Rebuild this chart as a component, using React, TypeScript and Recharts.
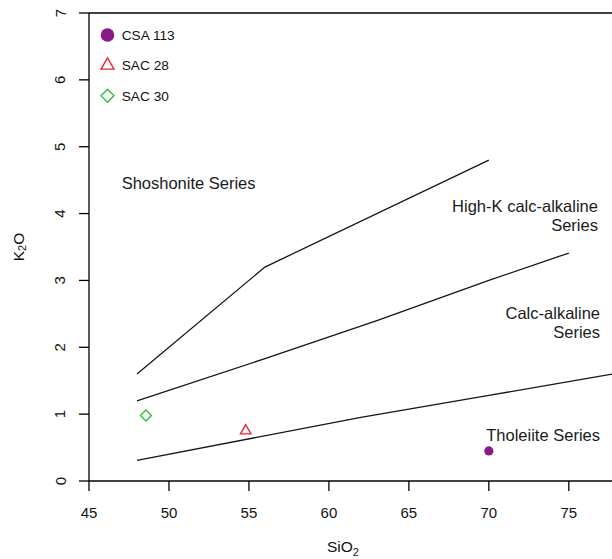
import React from 'react';
import {
  ComposedChart,
  Line,
  Scatter,
  XAxis,
  YAxis,
  ReferenceLine,
  ReferenceDot,
  Legend,
} from 'recharts';

const FONT = '"Liberation Sans", Arial, Helvetica, sans-serif';

// Series boundaries in the SiO2 – K2O plane (wt%)
const tholeiiteBoundary = [
  { sio2: 48, k2o: 0.31 },
  { sio2: 62, k2o: 0.95 },
  { sio2: 70, k2o: 1.28 },
  { sio2: 77.7, k2o: 1.6 },
];
const calcAlkalineBoundary = [
  { sio2: 48, k2o: 1.2 },
  { sio2: 56, k2o: 1.83 },
  { sio2: 63, k2o: 2.4 },
  { sio2: 70, k2o: 3.0 },
  { sio2: 75, k2o: 3.41 },
];
const highKBoundary = [
  { sio2: 48, k2o: 1.6 },
  { sio2: 56, k2o: 3.2 },
  { sio2: 70, k2o: 4.8 },
];

// Samples
const sampleNames = ['CSA 113', 'SAC 28', 'SAC 30'];
const csa113 = [{ sio2: 70.0, k2o: 0.45 }];
const sac28 = [{ sio2: 54.8, k2o: 0.75 }];
const sac30 = [{ sio2: 48.56, k2o: 0.98 }];

// Axis ticks
const xTicks = [45, 50, 55, 60, 65, 70, 75];
const yTicks = [0, 1, 2, 3, 4, 5, 6, 7];

const sampleStyle: Record<string, { kind: string; color: string }> = {
  'CSA 113': { kind: 'circle', color: '#8B1A89' },
  'SAC 28': { kind: 'triangle', color: '#E8262A' },
  'SAC 30': { kind: 'diamond', color: '#2EC22E' },
};

// Field names written inside the diagram (anchored in data units)
const fieldLabels = [
  { lines: ['Shoshonite Series'], sio2: 47.04, k2o: 4.45, anchor: 'start' },
  { lines: ['High-K calc-alkaline', 'Series'], sio2: 76.82, k2o: 4.11, anchor: 'end' },
  { lines: ['Calc-alkaline', 'Series'], sio2: 76.95, k2o: 2.51, anchor: 'end' },
  { lines: ['Tholeiite Series'], sio2: 76.95, k2o: 0.68, anchor: 'end' },
];

type MarkerProps = { kind: string; cx: number; cy: number; color: string; size: number };

function Marker({ kind, cx, cy, color, size }: MarkerProps) {
  if (kind === 'circle') {
    return <circle cx={cx} cy={cy} r={size / 2} fill={color} stroke="none" />;
  }
  if (kind === 'triangle') {
    const w = size;
    const h = size * 0.87;
    const pts = `${cx},${cy - (2 * h) / 3} ${cx + w / 2},${cy + h / 3} ${cx - w / 2},${cy + h / 3}`;
    return <polygon points={pts} fill="none" stroke={color} strokeWidth={1.4} />;
  }
  const r = size / 2;
  const pts = `${cx},${cy - r} ${cx + r},${cy} ${cx},${cy + r} ${cx - r},${cy}`;
  return <polygon points={pts} fill="none" stroke={color} strokeWidth={1.4} />;
}

function YTick(props: any) {
  const { x, y, payload } = props;
  return (
    <text
      x={x}
      y={y}
      transform={`rotate(-90 ${x} ${y})`}
      textAnchor="middle"
      dominantBaseline="central"
      fontSize={15}
      fill="#111"
      fontFamily={FONT}
    >
      {payload.value}
    </text>
  );
}

function SampleLegend(props: any) {
  const entries = (props.payload || []).filter((e: any) => sampleNames.includes(e.value));
  return (
    <svg width={110} height={95} style={{ display: 'block' }}>
      {entries.map((e: any, i: number) => {
        const st = sampleStyle[e.value];
        const cy = 13 + i * 30.4;
        return (
          <g key={e.value}>
            <Marker kind={st.kind} cx={11.5} cy={cy} color={st.color} size={st.kind === 'circle' ? 13.6 : 13} />
            <text x={25.7} y={cy} dy="0.36em" fontSize={13.7} fill="#111" fontFamily={FONT}>
              {e.value}
            </text>
          </g>
        );
      })}
    </svg>
  );
}

function FieldLabel(props: any) {
  const { cx, cy, lines, anchor } = props;
  return (
    <text x={cx} y={cy} textAnchor={anchor} fontSize={16.5} fill="#1a1a1a" fontFamily={FONT}>
      {lines.map((l: string, i: number) => (
        <tspan key={i} x={cx} dy={i === 0 ? '0.36em' : 19}>
          {l}
        </tspan>
      ))}
    </text>
  );
}

export default function App() {
  return (
    <div style={{ position: 'absolute', left: 0, top: 0, fontFamily: FONT, background: '#fff' }}>
      <ComposedChart width={612} height={559} margin={{ top: 13, right: 0, bottom: 0, left: 0 }}>
        <XAxis
          type="number"
          dataKey="sio2"
          domain={[45, 77.7]}
          ticks={xTicks}
          allowDataOverflow
          height={78}
          tickSize={10}
          tickMargin={16}
          axisLine={{ stroke: '#000', strokeWidth: 1.3 }}
          tickLine={{ stroke: '#000', strokeWidth: 1.3 }}
          tick={{ fill: '#111', fontSize: 15, fontFamily: FONT }}
          label={{
            content: (p: any) => {
              const vb = p.viewBox;
              const x = vb.x + 238;
              const y = vb.y + 71;
              return (
                <text x={x} y={y} fontSize={15.5} fill="#111" fontFamily={FONT}>
                  SiO
                  <tspan fontSize={11} dy={4}>2</tspan>
                </text>
              );
            },
          }}
        />
        <YAxis
          type="number"
          dataKey="k2o"
          domain={[0, 7]}
          ticks={yTicks}
          allowDataOverflow
          width={89}
          tickSize={10}
          tickMargin={19}
          axisLine={{ stroke: '#000', strokeWidth: 1.3 }}
          tickLine={{ stroke: '#000', strokeWidth: 1.3 }}
          tick={<YTick />}
          label={{
            content: (p: any) => {
              const vb = p.viewBox;
              const x = vb.x + 18;
              const y = vb.y + vb.height / 2;
              return (
                <text
                  x={x}
                  y={y}
                  transform={`rotate(-90 ${x} ${y})`}
                  textAnchor="middle"
                  dominantBaseline="central"
                  fontSize={15.5}
                  fill="#111"
                  fontFamily={FONT}
                >
                  K<tspan fontSize={11} dy={4}>2</tspan>
                  <tspan dy={-4}>O</tspan>
                </text>
              );
            },
          }}
        />
        <ReferenceLine y={7} stroke="#000" strokeWidth={1.3} />

        <Line data={tholeiiteBoundary} dataKey="k2o" type="linear" stroke="#151515" strokeWidth={1.3} dot={false} activeDot={false} legendType="none" isAnimationActive={false} />
        <Line data={calcAlkalineBoundary} dataKey="k2o" type="linear" stroke="#151515" strokeWidth={1.3} dot={false} activeDot={false} legendType="none" isAnimationActive={false} />
        <Line data={highKBoundary} dataKey="k2o" type="linear" stroke="#151515" strokeWidth={1.3} dot={false} activeDot={false} legendType="none" isAnimationActive={false} />

        <Scatter
          name={sampleNames[0]}
          data={csa113}
          dataKey="k2o"
          fill={sampleStyle['CSA 113'].color}
          isAnimationActive={false}
          shape={(p: any) => <Marker kind="circle" cx={p.cx} cy={p.cy} color={sampleStyle['CSA 113'].color} size={9.2} />}
        />
        <Scatter
          name={sampleNames[1]}
          data={sac28}
          dataKey="k2o"
          fill={sampleStyle['SAC 28'].color}
          isAnimationActive={false}
          shape={(p: any) => <Marker kind="triangle" cx={p.cx} cy={p.cy} color={sampleStyle['SAC 28'].color} size={10.5} />}
        />
        <Scatter
          name={sampleNames[2]}
          data={sac30}
          dataKey="k2o"
          fill={sampleStyle['SAC 30'].color}
          isAnimationActive={false}
          shape={(p: any) => <Marker kind="diamond" cx={p.cx} cy={p.cy} color={sampleStyle['SAC 30'].color} size={11} />}
        />

        {fieldLabels.map((f) => (
          <ReferenceDot
            key={f.lines[0]}
            x={f.sio2}
            y={f.k2o}
            r={0}
            shape={(p: any) => <FieldLabel cx={p.cx} cy={p.cy} lines={f.lines} anchor={f.anchor} />}
          />
        ))}

        <Legend
          layout="vertical"
          align="center"
          verticalAlign="middle"
          content={<SampleLegend />}
          wrapperStyle={{ left: 96, top: 22, width: 110, height: 95 }}
        />
      </ComposedChart>
    </div>
  );
}
